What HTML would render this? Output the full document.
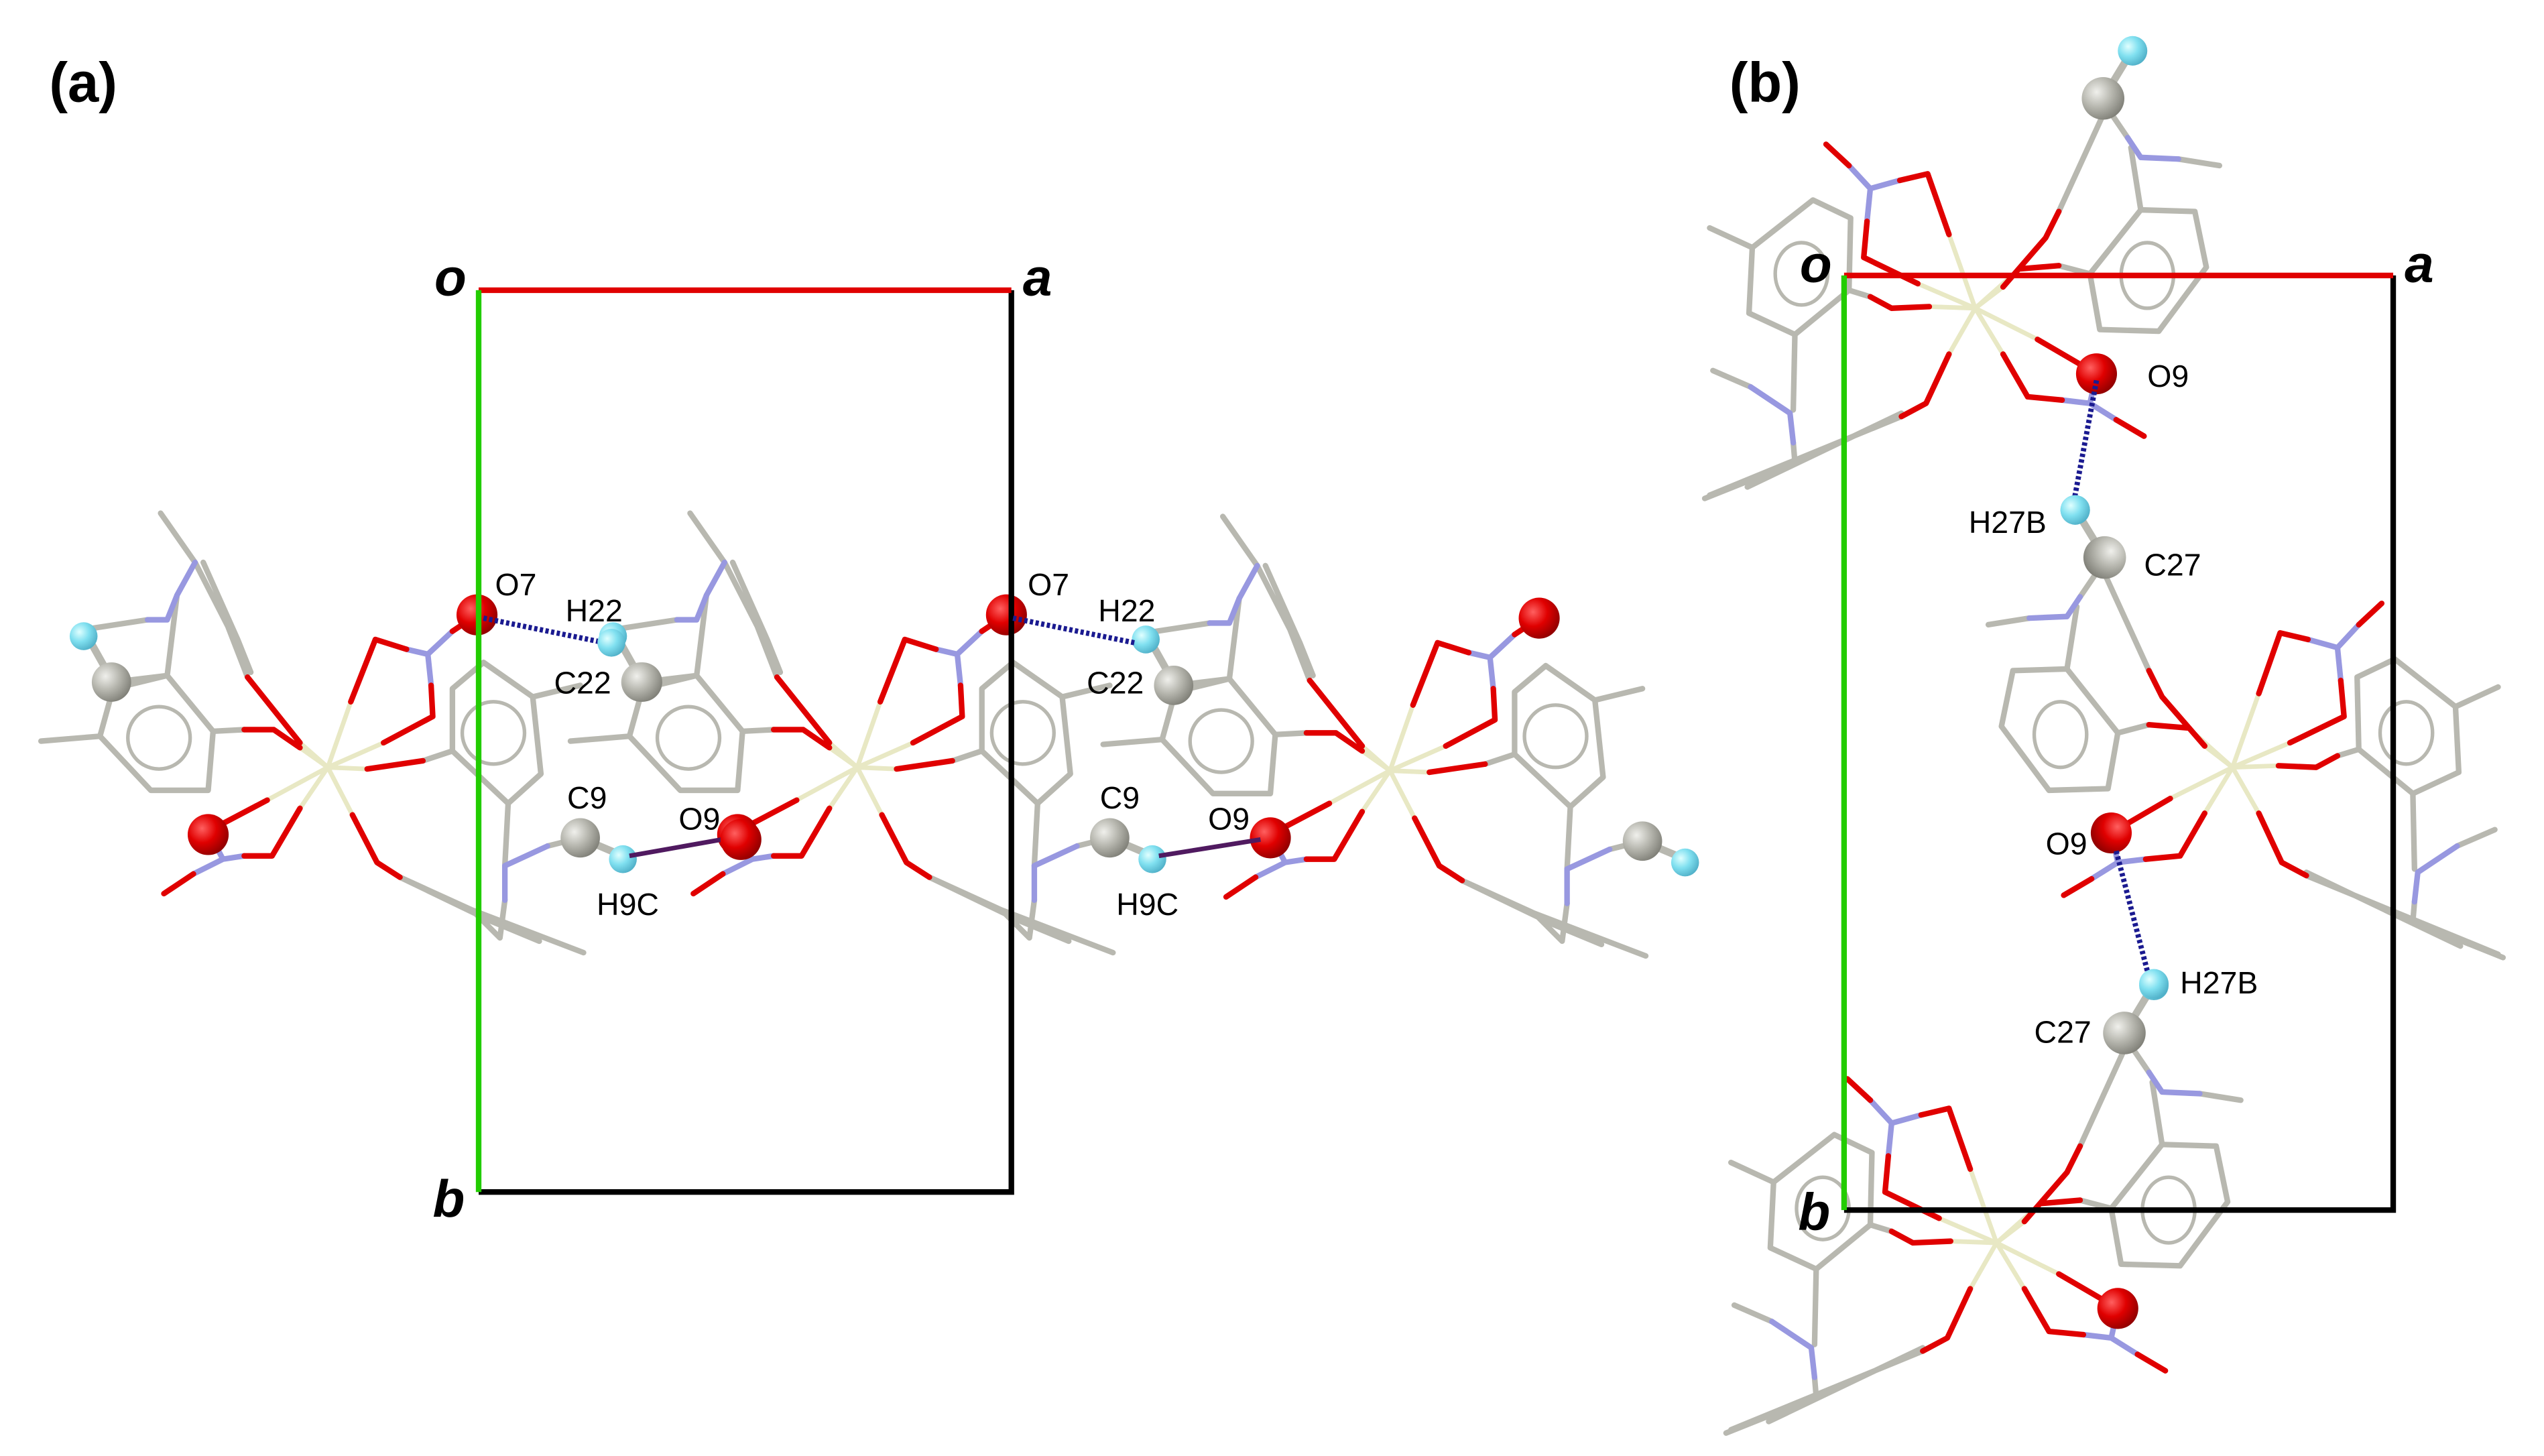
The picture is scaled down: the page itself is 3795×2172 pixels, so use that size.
<!DOCTYPE html>
<html><head><meta charset="utf-8"><style>
html,body{margin:0;padding:0;background:#fff;}
svg{display:block;}
text{font-family:"Liberation Sans",sans-serif;}
</style></head><body>
<svg xmlns="http://www.w3.org/2000/svg" xmlns:xlink="http://www.w3.org/1999/xlink" width="3795" height="2172" viewBox="0 0 1552 888" preserveAspectRatio="none">
<defs>
<radialGradient id="gr" cx="35%" cy="35%" r="70%"><stop offset="0" stop-color="#ff6060"/><stop offset="0.5" stop-color="#e00000"/><stop offset="1" stop-color="#900000"/></radialGradient>
<radialGradient id="gg" cx="35%" cy="35%" r="70%"><stop offset="0" stop-color="#f0f0ec"/><stop offset="0.5" stop-color="#b8b8b0"/><stop offset="1" stop-color="#808078"/></radialGradient>
<radialGradient id="gc" cx="35%" cy="35%" r="70%"><stop offset="0" stop-color="#e0ffff"/><stop offset="0.5" stop-color="#80e0f0"/><stop offset="1" stop-color="#50b0c8"/></radialGradient>
<g id="ua" fill="none" stroke-width="3.4" stroke-linecap="round" stroke-linejoin="round">
 <g stroke="#e8e8c4" stroke-width="2.8">
  <path d="M200,468L214,428M200,468L234,453M200,468L224,469M200,468L183,453M200,468L183,456M200,468L163,488M200,468L183,493M200,468L215,497"/>
 </g>
 <g stroke="#b8b8b0">
  <polygon points="102,412 130,446 127,482 92,482 61,449 69,420"/>
  <circle cx="97" cy="450" r="19" stroke-width="2.2"/>
  <path d="M61,449L25,452M102,412L69,416M51,384L90,378M108,363L102,412M119,343L98,313M119,343L139,382L151,413M124,343L145,390L153,410M130,446L149,445"/>
  <polygon points="276,420 295,404 325,425 330,472 310,490 276,458"/>
  <circle cx="301" cy="447" r="19" stroke-width="2.2"/>
  <path d="M325,425L354,418M310,490L308,528M308,549L305,572M334,516L354,511M258,464L276,458M244,535L288,555L356,581M244,535L300,562L329,574M288,555L305,572"/>
  <path d="M69,416L51,384M354,511L380,522" stroke-width="4.5"/>
 </g>
 <g stroke="#9898e0">
  <path d="M90,378L102,378L108,363L119,343M248,396L261,399L276,385M261,399L263,418M127,507L136,524L118,533M136,524L149,522M308,528L308,549M308,528L334,516"/>
 </g>
 <g stroke="#e00000">
  <path d="M214,428L229,390L248,396M276,385L291,375M263,418L264,437L234,453M224,469L258,464M151,413L183,453M149,445L167,445L183,456M127,507L163,488M118,533L100,545M149,522L166,522L183,493M215,497L230,526L244,535"/>
 </g>
 <circle cx="291" cy="375" r="12.5" fill="url(#gr)" stroke="none"/>
 <circle cx="127" cy="509" r="12.5" fill="url(#gr)" stroke="none"/>
 <circle cx="68" cy="416" r="12" fill="url(#gg)" stroke="none"/>
 <circle cx="51" cy="388" r="8.5" fill="url(#gc)" stroke="none"/>
 <circle cx="354" cy="511" r="12" fill="url(#gg)" stroke="none"/>
 <circle cx="380" cy="524" r="8.5" fill="url(#gc)" stroke="none"/>
</g>
<g id="ub" fill="none" stroke-width="3.4" stroke-linecap="round" stroke-linejoin="round">
 <g stroke="#e8e8c4" stroke-width="2.8">
  <path d="M1205,188L1177,187M1205,188L1189,143M1205,188L1170,173M1205,188L1189,216M1205,188L1222,175M1205,188L1232,164M1205,188L1243,207M1205,188L1222,216"/>
 </g>
 <g stroke="#b8b8b0">
  <polygon points="1106,122 1129,133 1128,177 1095,204 1067,191 1069,151"/>
  <ellipse cx="1099" cy="167" rx="16" ry="19" stroke-width="2.2"/>
  <path d="M1069,151L1043,139M1128,177L1141,181M1095,204L1094,250M1068,236L1045,226M1094,270L1095,282M1043,302L1160,254M1066,297L1160,252M1095,282L1040,304M1256,129L1283,70M1283,62L1298,84M1329,97L1354,101M1300,90L1306,128"/>
  <polygon points="1306,128 1339,129 1346,163 1317,202 1281,201 1275,167"/>
  <ellipse cx="1310" cy="168" rx="16" ry="20" stroke-width="2.2"/>
  <path d="M1275,167L1256,162"/>
  <path d="M1283,60L1300,32" stroke-width="4.5"/>
 </g>
 <g stroke="#9898e0">
  <path d="M1128,101L1141,115L1159,110M1141,115L1139,135M1092,252L1068,236M1092,252L1094,270M1298,84L1306,96L1329,97M1279,228L1275,246L1291,256M1275,246L1258,244"/>
 </g>
 <g stroke="#e00000">
  <path d="M1114,88L1128,101M1159,110L1176,106L1189,143M1139,135L1137,157L1170,173M1141,181L1154,188L1177,187M1160,254L1175,246L1189,216M1222,175L1248,145L1256,129M1256,162L1232,164M1279,228L1243,207M1291,256L1308,266M1258,244L1237,242L1222,216"/>
 </g>
 <circle cx="1279" cy="228" r="12.5" fill="url(#gr)" stroke="none"/>
 <circle cx="1283" cy="60" r="13" fill="url(#gg)" stroke="none"/>
 <circle cx="1301" cy="31" r="9" fill="url(#gc)" stroke="none"/>
</g>
</defs>

<text x="30" y="62" font-size="34" font-weight="bold">(a)</text>
<use xlink:href="#ua"/>
<use xlink:href="#ua" transform="translate(323,0)"/>
<use xlink:href="#ua" transform="translate(648,2)"/>
<g stroke-width="3.4" fill="none">
 <path d="M617,177L617,727L292,727" stroke="#000"/>
 <path d="M292,177L617,177" stroke="#e00000"/>
 <path d="M292,177L292,727" stroke="#22cc00"/>
</g>
<g stroke="#1a1a90" stroke-width="3.2" stroke-dasharray="2,1.5">
 <path d="M295,377L369,392M618,377L692,392"/>
</g>
<g stroke="#501a60" stroke-width="2.8">
 <path d="M384,522L446,511M707,522L769,512"/>
</g>
<circle cx="373" cy="392" r="8.5" fill="url(#gc)"/>
<circle cx="392" cy="416" r="12" fill="url(#gg)"/>
<circle cx="452" cy="512" r="12.5" fill="url(#gr)"/>
<g font-size="32" font-weight="bold" font-style="italic">
 <text x="265" y="180">o</text><text x="624" y="180">a</text><text x="264" y="742">b</text>
</g>
<g font-size="19">
 <text x="302" y="363">O7</text><text x="345" y="379">H22</text><text x="338" y="423">C22</text>
 <text x="346" y="493">C9</text><text x="414" y="506">O9</text><text x="364" y="558">H9C</text>
 <text x="627" y="363">O7</text><text x="670" y="379">H22</text><text x="663" y="423">C22</text>
 <text x="671" y="493">C9</text><text x="737" y="506">O9</text><text x="681" y="558">H9C</text>
</g>

<text x="1055" y="62" font-size="34" font-weight="bold">(b)</text>
<use xlink:href="#ub"/>
<use xlink:href="#ub" transform="translate(1362,468) scale(-1,1) translate(-1205,-188)"/>
<use xlink:href="#ub" transform="translate(13,570)"/>
<g stroke-width="3.4" fill="none">
 <path d="M1460,168L1460,738L1125,738" stroke="#000"/>
 <path d="M1125,168L1460,168" stroke="#e00000"/>
 <path d="M1125,168L1125,738" stroke="#22cc00"/>
</g>
<g stroke="#1a1a90" stroke-width="3.2" stroke-dasharray="2,1.5">
 <path d="M1279,232L1265,307M1291,519L1311,596"/>
</g>
<circle cx="1266" cy="311" r="9" fill="url(#gc)"/>
<circle cx="1314" cy="600" r="9" fill="url(#gc)"/>
<g font-size="32" font-weight="bold" font-style="italic">
 <text x="1098" y="172">o</text><text x="1467" y="172">a</text><text x="1097" y="750">b</text>
</g>
<g font-size="19">
 <text x="1310" y="236">O9</text><text x="1201" y="325">H27B</text><text x="1308" y="351">C27</text>
 <text x="1248" y="521">O9</text><text x="1330" y="606">H27B</text><text x="1241" y="636">C27</text>
</g>
</svg>
</body></html>
